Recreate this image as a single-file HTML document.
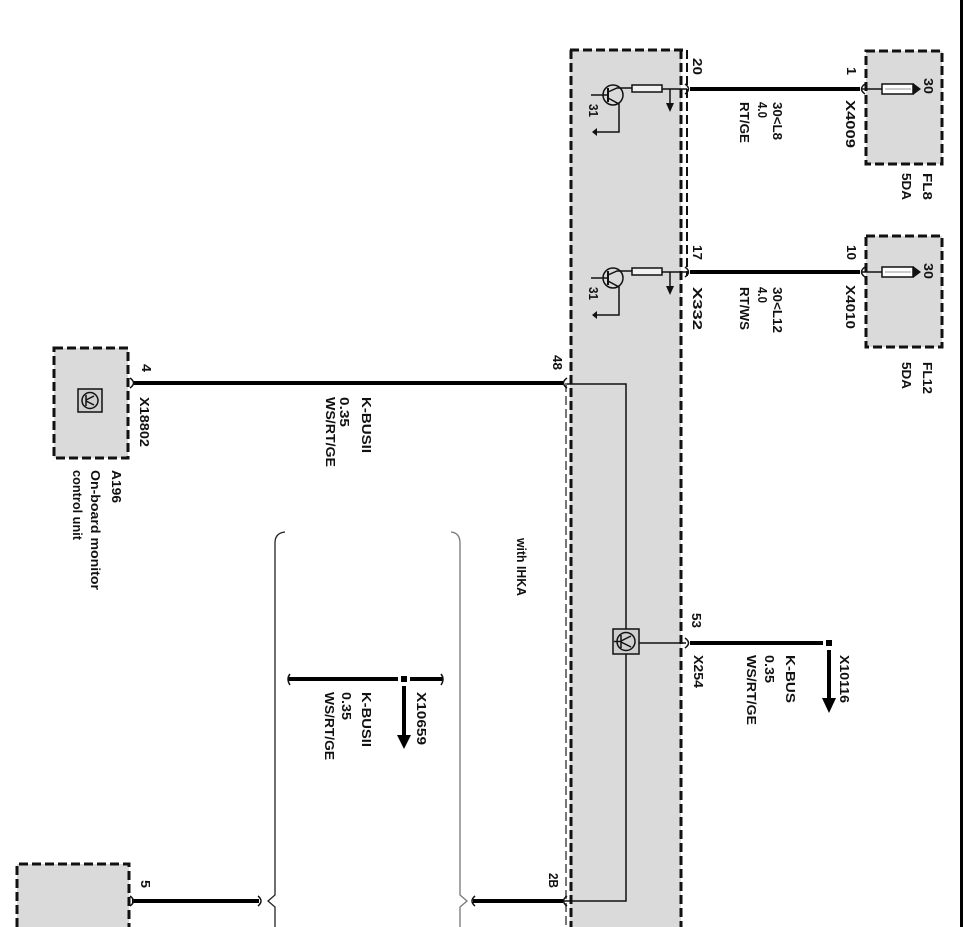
<!DOCTYPE html>
<html><head><meta charset="utf-8"><style>
html,body{margin:0;padding:0;background:#fff;}
svg{display:block;}
text{font-family:"Liberation Sans",Arial,sans-serif;font-size:12.5px;font-weight:bold;fill:#111;}
</style></head><body>
<svg width="965" height="927" viewBox="0 0 965 927" xmlns="http://www.w3.org/2000/svg">
<!-- main module box -->
<rect x="570" y="50" width="111" height="877" fill="#dadada"/>
<g fill="none" stroke="#111" stroke-width="3" stroke-dasharray="9 4">
  <line x1="570" y1="50" x2="684" y2="50"/>
  <line x1="571" y1="50" x2="571" y2="927"/>
  <line x1="681" y1="50" x2="681" y2="927"/>
  <line x1="687" y1="50" x2="687" y2="276" stroke-width="2"/>
</g>
<line x1="566" y1="383" x2="566" y2="927" stroke="#777" stroke-width="2" stroke-dasharray="9 4"/>

<!-- fuse boxes -->
<g fill="#dadada" stroke="#111" stroke-width="3" stroke-dasharray="9 4">
  <rect x="866" y="51" width="76" height="113"/>
  <rect x="866" y="236" width="76" height="111"/>
  <rect x="54" y="348" width="74" height="110"/>
  <path d="M17,927 L17,864 L129,864 L129,927"/>
</g>

<!-- right edge line -->
<rect x="960" y="0" width="3" height="927" fill="#000"/>

<!-- thick wires -->
<g stroke="#000" stroke-width="4" fill="none">
  <line x1="690" y1="89" x2="860" y2="89"/>
  <line x1="690" y1="272" x2="860" y2="272"/>
  <line x1="133" y1="383" x2="563" y2="383"/>
  <line x1="690" y1="643" x2="823" y2="643"/>
  <line x1="288" y1="679" x2="398" y2="679"/>
  <line x1="410" y1="679" x2="443" y2="679"/>
  <line x1="132" y1="901" x2="259" y2="901"/>
  <line x1="473" y1="901" x2="563" y2="901"/>
  <line x1="829" y1="650" x2="829" y2="700"/>
  <line x1="404" y1="686" x2="404" y2="737"/>
</g>
<rect x="826" y="640" width="6" height="6" fill="#000"/>
<rect x="401" y="676" width="6" height="6" fill="#000"/>
<polygon points="822,698 836,698 829,713" fill="#000"/>
<polygon points="397,735 411,735 404,749" fill="#000"/>

<!-- thin lines -->
<g stroke="#111" stroke-width="1.5" fill="none">
  <polyline points="567,384 626,384 626,629"/>
  <polyline points="626,654 626,901 564,901"/>
  <line x1="639" y1="643" x2="686" y2="643"/>
  <line x1="862" y1="89" x2="882" y2="89"/>
  <line x1="862" y1="272" x2="882" y2="272"/>
  <!-- pin curls -->
  <path d="M685,84 Q692,89 685,94"/>
  <path d="M685,267 Q692,272 685,277"/>
  <path d="M685,638 Q692,643 685,648"/>
  <path d="M865,84 Q858,89 865,94"/>
  <path d="M865,267 Q858,272 865,277"/>
  <path d="M130,378 Q137,383 130,388"/>
  <path d="M567,378 Q560,383 567,388"/>
  <path d="M130,896 Q137,901 130,906"/>
  <path d="M567,896 Q560,901 567,906"/>
  <path d="M258,896 Q264,901 258,906"/>
  <path d="M475,896 Q469,901 475,906"/>
  <path d="M290,674 Q286,679 290,685"/>
  <path d="M441,674 Q445,679 441,685"/>
</g>
<!-- brackets -->
<path d="M275,927 L275,907 L268,901 L275,895 L275,543 Q275,533 285,532" fill="none" stroke="#222" stroke-width="1.3"/>
<path d="M460,927 L460,907 L467,901 L460,895 L460,543 Q460,533 451,532" fill="none" stroke="#777" stroke-width="1.3"/>

<!-- transistors -->
<g stroke="#111" stroke-width="1.5" fill="none">
  <circle cx="613" cy="95" r="10"/>
  <line x1="591" y1="95" x2="608" y2="95"/>
  <line x1="608" y1="88" x2="608" y2="102" stroke-width="2"/>
  <polyline points="608,92 617,88 632,88"/>
  <polyline points="608,98 619,104 619,132 597,132"/>
  <rect x="632" y="85" width="30" height="7" fill="#f2f2f2"/>
  <line x1="662" y1="89" x2="687" y2="89"/>
  <line x1="670" y1="89" x2="670" y2="104"/>
  <polygon points="666,103 674,103 670,112" fill="#111" stroke="none"/>
  <polygon points="597,128 597,136 592,132" fill="#111" stroke="none"/>
</g>
<g transform="translate(0,183)" stroke="#111" stroke-width="1.5" fill="none">
  <circle cx="613" cy="95" r="10"/>
  <line x1="591" y1="95" x2="608" y2="95"/>
  <line x1="608" y1="88" x2="608" y2="102" stroke-width="2"/>
  <polyline points="608,92 617,88 632,88"/>
  <polyline points="608,98 619,104 619,132 597,132"/>
  <rect x="632" y="85" width="30" height="7" fill="#f2f2f2"/>
  <line x1="662" y1="89" x2="687" y2="89"/>
  <line x1="670" y1="89" x2="670" y2="104"/>
  <polygon points="666,103 674,103 670,112" fill="#111" stroke="none"/>
  <polygon points="597,128 597,136 592,132" fill="#111" stroke="none"/>
</g>

<!-- fuses -->
<g stroke="#111" stroke-width="1.5">
  <rect x="882" y="84" width="31" height="10" fill="#fff"/>
  <line x1="885" y1="89" x2="911" y2="89" stroke="#999" stroke-width="1"/>
  <rect x="882" y="267" width="31" height="10" fill="#fff"/>
  <line x1="885" y1="272" x2="911" y2="272" stroke="#999" stroke-width="1"/>
</g>
<polygon points="913,83 913,95 921,89" fill="#111"/>
<polygon points="913,266 913,278 921,272" fill="#111"/>

<!-- icons -->
<g stroke="#111" stroke-width="1.5" fill="none">
  <rect x="78" y="389" width="24" height="23" fill="#d0d0d0"/>
  <circle cx="90" cy="400.5" r="8"/>
  <line x1="86" y1="395" x2="86" y2="406"/>
  <line x1="86" y1="400" x2="94" y2="396"/>
  <line x1="86" y1="401" x2="94" y2="405"/>
  <rect x="613" y="629" width="26" height="25" fill="#cfcfcf"/>
  <circle cx="626" cy="641.5" r="9"/>
  <line x1="621" y1="635" x2="621" y2="648"/>
  <line x1="621" y1="641" x2="631" y2="636"/>
  <line x1="621" y1="642" x2="631" y2="647"/>
  <line x1="614" y1="641.5" x2="621" y2="641.5"/>
</g>

<!-- labels -->
<g>
<text transform="translate(589,104) rotate(90)" textLength="13" lengthAdjust="spacingAndGlyphs">31</text>
<text transform="translate(589,287) rotate(90)" textLength="13" lengthAdjust="spacingAndGlyphs">31</text>
<text transform="translate(693,58) rotate(90)" textLength="17" lengthAdjust="spacingAndGlyphs">20</text>
<text transform="translate(847,67) rotate(90)" textLength="8" lengthAdjust="spacingAndGlyphs">1</text>
<text transform="translate(924,78) rotate(90)" textLength="16" lengthAdjust="spacingAndGlyphs">30</text>
<text transform="translate(846,100) rotate(90)" textLength="48" lengthAdjust="spacingAndGlyphs">X4009</text>
<text transform="translate(773,102) rotate(90)" textLength="38" lengthAdjust="spacingAndGlyphs">30&lt;L8</text>
<text transform="translate(758,102) rotate(90)" textLength="16" lengthAdjust="spacingAndGlyphs">4.0</text>
<text transform="translate(740,102) rotate(90)" textLength="41" lengthAdjust="spacingAndGlyphs">RT/GE</text>
<text transform="translate(923,173) rotate(90)" textLength="27" lengthAdjust="spacingAndGlyphs">FL8</text>
<text transform="translate(902,173) rotate(90)" textLength="27" lengthAdjust="spacingAndGlyphs">5DA</text>

<text transform="translate(693,245) rotate(90)" textLength="15" lengthAdjust="spacingAndGlyphs">17</text>
<text transform="translate(693,287) rotate(90)" textLength="43" lengthAdjust="spacingAndGlyphs">X332</text>
<text transform="translate(847,245) rotate(90)" textLength="15" lengthAdjust="spacingAndGlyphs">10</text>
<text transform="translate(846,285) rotate(90)" textLength="44" lengthAdjust="spacingAndGlyphs">X4010</text>
<text transform="translate(773,287) rotate(90)" textLength="46" lengthAdjust="spacingAndGlyphs">30&lt;L12</text>
<text transform="translate(758,287) rotate(90)" textLength="16" lengthAdjust="spacingAndGlyphs">4.0</text>
<text transform="translate(740,287) rotate(90)" textLength="43" lengthAdjust="spacingAndGlyphs">RT/WS</text>
<text transform="translate(924,263) rotate(90)" textLength="16" lengthAdjust="spacingAndGlyphs">30</text>
<text transform="translate(923,362) rotate(90)" textLength="32" lengthAdjust="spacingAndGlyphs">FL12</text>
<text transform="translate(902,362) rotate(90)" textLength="27" lengthAdjust="spacingAndGlyphs">5DA</text>

<text transform="translate(142,364) rotate(90)" textLength="8" lengthAdjust="spacingAndGlyphs">4</text>
<text transform="translate(140,397) rotate(90)" textLength="50" lengthAdjust="spacingAndGlyphs">X18802</text>
<text transform="translate(112,470) rotate(90)" textLength="33" lengthAdjust="spacingAndGlyphs">A196</text>
<text transform="translate(91,470) rotate(90)" textLength="120" lengthAdjust="spacingAndGlyphs">On-board monitor</text>
<text transform="translate(73,470) rotate(90)" textLength="70" lengthAdjust="spacingAndGlyphs">control unit</text>
<text transform="translate(362,397) rotate(90)" textLength="56" lengthAdjust="spacingAndGlyphs">K-BUSII</text>
<text transform="translate(340,397) rotate(90)" textLength="30" lengthAdjust="spacingAndGlyphs">0.35</text>
<text transform="translate(326,397) rotate(90)" textLength="70" lengthAdjust="spacingAndGlyphs">WS/RT/GE</text>
<text transform="translate(553,355) rotate(90)" textLength="15" lengthAdjust="spacingAndGlyphs">48</text>

<text transform="translate(517,538) rotate(90)" textLength="58" lengthAdjust="spacingAndGlyphs">with IHKA</text>

<text transform="translate(692,613) rotate(90)" textLength="15" lengthAdjust="spacingAndGlyphs">53</text>
<text transform="translate(694,655) rotate(90)" textLength="33" lengthAdjust="spacingAndGlyphs">X254</text>
<text transform="translate(786,655) rotate(90)" textLength="48" lengthAdjust="spacingAndGlyphs">K-BUS</text>
<text transform="translate(765,655) rotate(90)" textLength="28" lengthAdjust="spacingAndGlyphs">0.35</text>
<text transform="translate(747,655) rotate(90)" textLength="70" lengthAdjust="spacingAndGlyphs">WS/RT/GE</text>
<text transform="translate(840,655) rotate(90)" textLength="48" lengthAdjust="spacingAndGlyphs">X10116</text>

<text transform="translate(417,692) rotate(90)" textLength="53" lengthAdjust="spacingAndGlyphs">X10659</text>
<text transform="translate(362,692) rotate(90)" textLength="55" lengthAdjust="spacingAndGlyphs">K-BUSII</text>
<text transform="translate(342,692) rotate(90)" textLength="28" lengthAdjust="spacingAndGlyphs">0.35</text>
<text transform="translate(325,692) rotate(90)" textLength="68" lengthAdjust="spacingAndGlyphs">WS/RT/GE</text>

<text transform="translate(141,880) rotate(90)" textLength="8" lengthAdjust="spacingAndGlyphs">5</text>
<text transform="translate(549,873) rotate(90)" textLength="15" lengthAdjust="spacingAndGlyphs">2B</text>
</g>
</svg>
</body></html>
